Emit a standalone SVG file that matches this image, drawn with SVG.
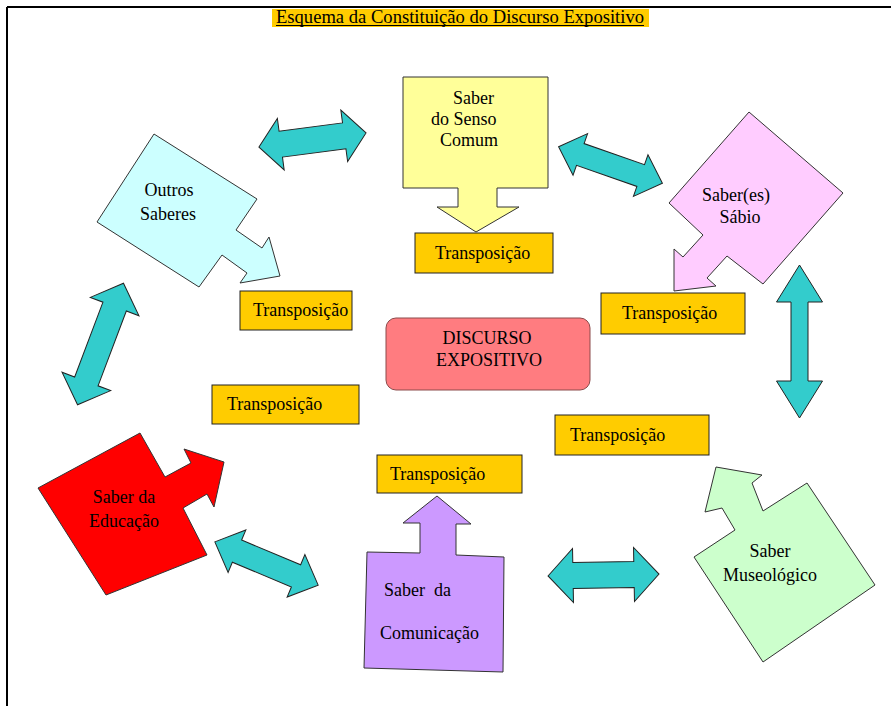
<svg xmlns="http://www.w3.org/2000/svg" width="891" height="706" viewBox="0 0 891 706">
<style>
text{font-family:"Liberation Serif","Times New Roman",serif;font-size:18px;fill:#000}
.mid{text-anchor:middle}
.shape{stroke:#333;stroke-width:1}
.tbox{fill:#FFCC00;stroke:#222;stroke-width:1}
.dbl{fill:#33CCCC;stroke:#222;stroke-width:1}
</style>
<rect width="891" height="706" fill="#fff"/>
<g id="frame">
<line x1="7" y1="7" x2="891" y2="7" stroke="#000" stroke-width="2"/>
<line x1="7" y1="7" x2="7" y2="706" stroke="#000" stroke-width="2"/>
</g>
<g id="title">
<rect x="272" y="9" width="377" height="18" fill="#FFCC00"/>
<text x="276" y="23" font-size="19" textLength="368" lengthAdjust="spacingAndGlyphs">Esquema da Constituição do Discurso Expositivo</text>
<line x1="276" y1="25.5" x2="644" y2="25.5" stroke="#000" stroke-width="1"/>
</g>
<g id="connectors">
<path class="dbl" transform="translate(312.5,140) rotate(-7.5)" d="M-54,0 L-32,-26 L-32,-13 L32,-13 L32,-26 L54,0 L32,26 L32,13 L-32,13 L-32,26 Z"/>
<path class="dbl" transform="translate(610.5,165) rotate(19.3)" d="M-55,0 L-32,-22 L-32,-11.5 L32,-11.5 L32,-22 L55,0 L32,22 L32,11.5 L-32,11.5 L-32,22 Z"/>
<path class="dbl" transform="translate(799.5,341.5) rotate(90)" d="M-76.5,0 L-39.5,-23 L-39.5,-8.5 L39.5,-8.5 L39.5,-23 L76.5,0 L39.5,23 L39.5,8.5 L-39.5,8.5 L-39.5,23 Z"/>
<path class="dbl" transform="translate(100.5,344) rotate(-69.3)" d="M-65,0 L-40,-26 L-40,-12.5 L40,-12.5 L40,-26 L65,0 L40,26 L40,12.5 L-40,12.5 L-40,26 Z"/>
<path class="dbl" transform="translate(266.5,563.5) rotate(22.7)" d="M-56,0 L-32,-23 L-32,-12 L32,-12 L32,-23 L56,0 L32,23 L32,12 L-32,12 L-32,23 Z"/>
<path class="dbl" transform="translate(603.5,575) rotate(-1)" d="M-55.5,0 L-30.5,-27 L-30.5,-13 L30.5,-13 L30.5,-27 L55.5,0 L30.5,27 L30.5,13 L-30.5,13 L-30.5,27 Z"/>
</g>
<g id="senso-comum">
<path class="shape" fill="#FFFF99" d="M403,77 H548 V188 H497 V207 H519 L476,232 L437,207 H458 V188 H403 Z"/>
<text x="453" y="104">Saber</text>
<text x="431" y="125">do Senso</text>
<text x="440" y="146">Comum</text>
</g>
<g id="outros-saberes">
<path class="shape" fill="#CCFFFF" d="M154,134 L257,199 L236,230 L262,248 L269,237 L280,276 L240,283 L247,273 L222,255 L199,287 L97,222 Z"/>
<text class="mid" x="169" y="196">Outros</text>
<text class="mid" x="168" y="220">Saberes</text>
</g>
<g id="saber-sabio">
<path class="shape" fill="#FFCCFF" d="M749,112 L843,193 L763,284 L727,256 L707,278 L716,286 L674,291 L674,249 L683,257 L703,235 L669,203 Z"/>
<text class="mid" x="736" y="201">Saber(es)</text>
<text class="mid" x="740" y="223">Sábio</text>
</g>
<g id="saber-educacao">
<path class="shape" fill="#FF0000" d="M140,433 L165,477 L191,463 L184,449 L224,462 L214,507 L207,494 L183,508 L207,555 L106,595 L38,488 Z"/>
<text class="mid" x="124" y="503">Saber da</text>
<text class="mid" x="124" y="527">Educação</text>
</g>
<g id="saber-museologico">
<path class="shape" fill="#CCFFCC" d="M716,467 L762,475 L752,483 L763,511 L807,483 L875,585 L763,662 L694,557 L735,530 L722,508 L705,512 Z"/>
<text class="mid" x="770" y="557">Saber</text>
<text class="mid" x="770" y="581">Museológico</text>
</g>
<g id="saber-comunicacao">
<path class="shape" fill="#CC99FF" d="M367,552 L420,553 L420,523 L403,523 L437,496 L471,524 L456,524 L456,555 L504,557 L503,672 L364,668 Z"/>
<text x="384" y="596" xml:space="preserve">Saber  da</text>
<text x="380" y="639">Comunicação</text>
</g>
<g id="discurso">
<rect x="386" y="318" width="204" height="72" rx="10" ry="10" fill="#FF7C80" stroke="#8B4A4A" stroke-width="1"/>
<text class="mid" x="487" y="344">DISCURSO</text>
<text class="mid" x="489" y="366">EXPOSITIVO</text>
</g>
<g id="transp-1"><rect class="tbox" x="415" y="233" width="138" height="40"/><text x="435" y="259">Transposição</text></g>
<g id="transp-2"><rect class="tbox" x="240" y="291" width="112" height="39"/><text x="253" y="316">Transposição</text></g>
<g id="transp-3"><rect class="tbox" x="601" y="293" width="144" height="41"/><text x="622" y="319">Transposição</text></g>
<g id="transp-4"><rect class="tbox" x="212" y="385" width="147" height="39"/><text x="227" y="410">Transposição</text></g>
<g id="transp-5"><rect class="tbox" x="555" y="415" width="154" height="40"/><text x="570" y="441">Transposição</text></g>
<g id="transp-6"><rect class="tbox" x="377" y="455" width="145" height="38"/><text x="390" y="480">Transposição</text></g>
</svg>
